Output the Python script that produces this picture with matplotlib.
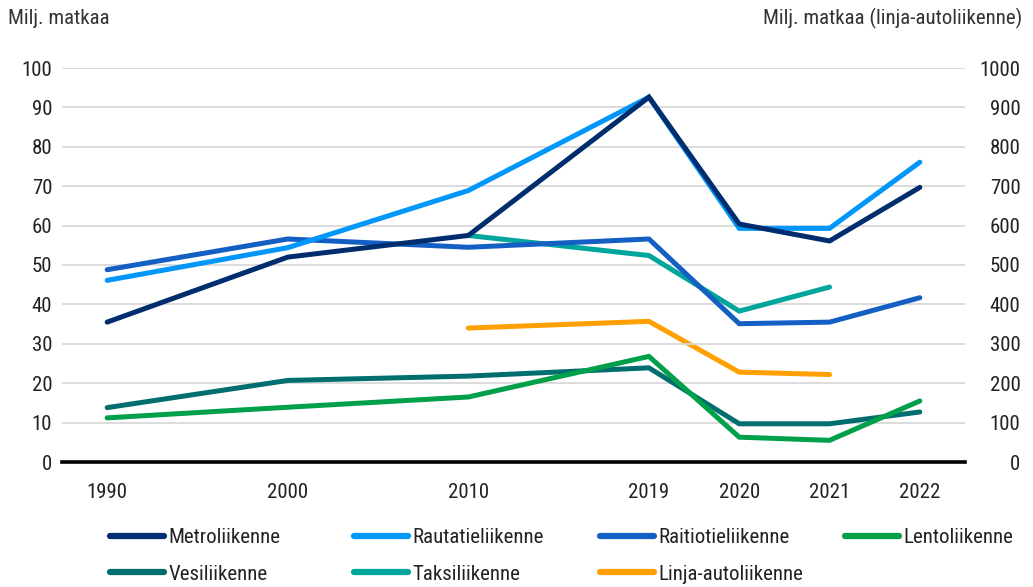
import matplotlib
matplotlib.use("Agg")
import matplotlib.pyplot as plt
import numpy as np

plt.rcParams["font.family"] = ["Roboto Condensed", "PT Sans Narrow", "Fira Sans Condensed",
                               "Liberation Sans Narrow", "DejaVu Sans"]

# category slots on the x axis (blank slots are unlabeled gaps)
slots = ["1990", "", "2000", "", "2010", "", "2019", "2020", "2021", "2022"]
years = ["1990", "2000", "2010", "2019", "2020", "2021", "2022"]

metro = [35.5, 52.0, 57.5, 92.6, 60.4, 56.1, 69.7]
rautatie = [46.1, 54.4, 68.9, 92.6, 59.3, 59.3, 76.1]
raitiotie = [48.8, 56.6, 54.5, 56.6, 35.1, 35.5, 41.7]
lento = [11.2, 13.9, 16.5, 26.8, 6.3, 5.5, 15.5]
vesi = [13.8, 20.7, 21.8, 23.9, 9.7, 9.7, 12.7]
taksi = [None, None, 57.5, 52.4, 38.3, 44.4, None]
# right axis
linja = [None, None, 340, 357, 228, 222, None]

series = [
    ("Metroliikenne", metro, "#002D6E", False),
    ("Rautatieliikenne", rautatie, "#0096FA", False),
    ("Raitiotieliikenne", raitiotie, "#145FC4", False),
    ("Lentoliikenne", lento, "#00A04B", False),
    ("Vesiliikenne", vesi, "#006E6E", False),
    ("Taksiliikenne", taksi, "#00A59B", False),
    ("Linja-autoliikenne", linja, "#FFA000", True),
]

fig = plt.figure(figsize=(10.33, 5.87), dpi=100)
ax = fig.add_axes([62 / 1033, 1 - 462 / 587, (965 - 62) / 1033, (462 - 68) / 587])
ax2 = ax.twinx()

xpos = [slots.index(y) for y in years]

handles = {}
for name, vals, color, right in series[::-1]:
    pts = [(x, v) for x, v in zip(xpos, vals) if v is not None]
    xs = [p[0] for p in pts]
    ys = [p[1] for p in pts]
    target = ax2 if right else ax
    (ln,) = target.plot(xs, ys, color=color, lw=3.6, solid_capstyle="round",
                        solid_joinstyle="miter", label=name, zorder=3)
    handles[name] = ln

ax.set_zorder(2)
ax.patch.set_visible(False)
ax2.set_zorder(1)

ax.set_xlim(-0.5, 9.5)
ax.set_ylim(0, 100)
ax2.set_ylim(0, 1000)
ax.set_yticks(np.arange(0, 101, 10))
ax2.set_yticks(np.arange(0, 1001, 100))
ax.set_xticks(xpos)
ax.set_xticklabels(years)

ax.grid(axis="y", color="#D9D9D9", lw=1.3, zorder=0)
ax.set_axisbelow(True)
for a in (ax, ax2):
    for s in ("top", "left", "right", "bottom"):
        a.spines[s].set_visible(False)
ax.spines["bottom"].set_visible(True)
ax.spines["bottom"].set_color("black")
ax.spines["bottom"].set_linewidth(2.6)
ax.spines["bottom"].set_zorder(5)

ax.tick_params(axis="y", length=0, pad=7, labelsize=15, labelcolor="#222222")
ax.tick_params(axis="x", length=0, pad=15, labelsize=15, labelcolor="#222222")
ax2.tick_params(axis="y", length=0, pad=40, labelsize=15, labelcolor="#222222")
for t in ax2.get_yticklabels():
    t.set_horizontalalignment("right")

fig.text(8 / 1033, 1 - 18 / 587, "Milj. matkaa", fontsize=15, color="#333333",
         ha="left", va="center")
fig.text(1022 / 1033, 1 - 18 / 587, "Milj. matkaa (linja-autoliikenne)",
         fontsize=15, color="#333333", ha="right", va="center")

# legend in four fixed columns
cols = [["Metroliikenne", "Vesiliikenne"],
        ["Rautatieliikenne", "Taksiliikenne"],
        ["Raitiotieliikenne", "Linja-autoliikenne"],
        ["Lentoliikenne"]]
col_x = [110, 354, 600, 845]
for cx, names in zip(col_x, cols):
    leg = fig.legend([handles[n] for n in names], names, loc="upper left",
                     bbox_to_anchor=(cx / 1033, 1 - 528 / 587), frameon=False,
                     fontsize=15, handlelength=2.6, handletextpad=0.2,
                     labelspacing=0.84, borderaxespad=0, borderpad=0)
    for line in leg.get_lines():
        line.set_linewidth(4.5)
    for t in leg.get_texts():
        t.set_color("#222222")

fig.savefig("out.png", dpi=100)
